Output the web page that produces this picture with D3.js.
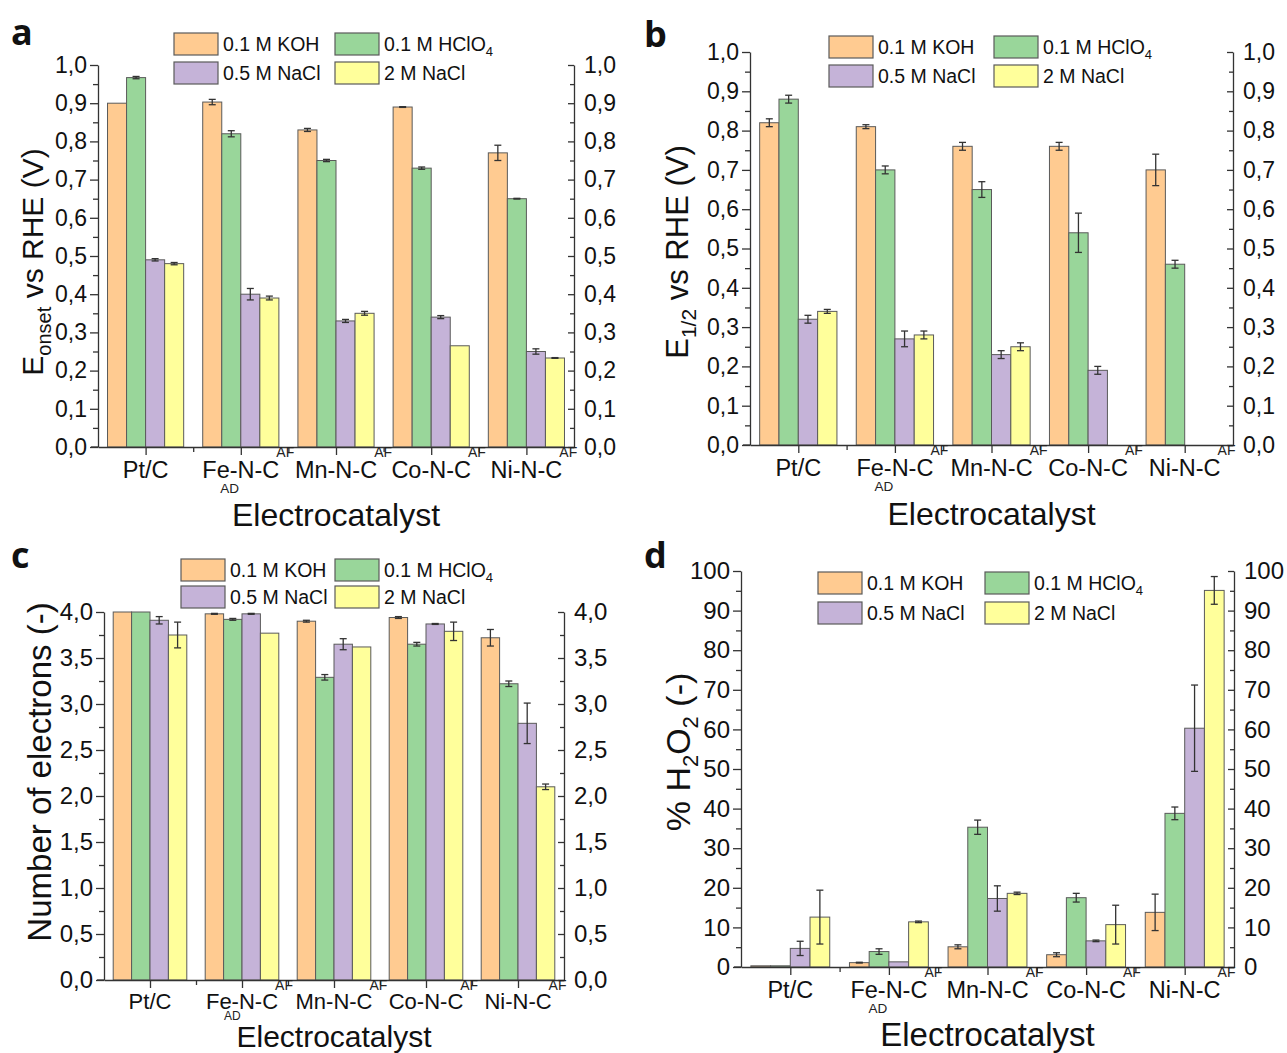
<!DOCTYPE html>
<html>
<head>
<meta charset="utf-8">
<script src="https://cdn.jsdelivr.net/npm/d3@7"></script>
<style>
  body { margin: 0; background: #fff; }
  svg { display: block; font-family: "Liberation Sans", Arial, sans-serif; }
</style>
</head>
<body>
<svg id="fig" width="1287" height="1053"></svg>
<script>
// categories and series
let catalysts = ["Pt/C", "Fe-N-C", "Mn-N-C", "Co-N-C", "Ni-N-C"];
let catSub = ["", "AD", "", "", ""];
let catSup = ["", "AF", "AF", "AF", "AF"];
let electrolytes = ["0.1 M KOH", "0.1 M HClO4", "0.5 M NaCl", "2 M NaCl"];
let colors = ["#ffcb91", "#99d69a", "#c5b3d8", "#ffff9b"];

// panel a: onset potential (V vs RHE), rows = catalysts, cols = electrolytes
let onsetVals = [
  [0.900, 0.967, 0.490, 0.480],
  [0.903, 0.820, 0.400, 0.390],
  [0.830, 0.750, 0.330, 0.350],
  [0.890, 0.730, 0.340, 0.265],
  [0.770, 0.650, 0.250, 0.233]
];
let onsetErr = [
  [0.000, 0.003, 0.003, 0.003],
  [0.007, 0.008, 0.015, 0.005],
  [0.004, 0.003, 0.004, 0.005],
  [0.001, 0.003, 0.004, 0.000],
  [0.020, 0.001, 0.007, 0.001]
];

// panel b: half-wave potential
let halfVals = [
  [0.820, 0.880, 0.320, 0.340],
  [0.810, 0.700, 0.270, 0.280],
  [0.760, 0.650, 0.230, 0.250],
  [0.760, 0.540, 0.190, null],
  [0.700, 0.460, null, null]
];
let halfErr = [
  [0.010, 0.010, 0.010, 0.005],
  [0.005, 0.010, 0.020, 0.010],
  [0.010, 0.020, 0.010, 0.010],
  [0.010, 0.050, 0.010, 0],
  [0.040, 0.010, 0, 0]
];

// panel c: number of electrons
let electronVals = [
  [4.00, 4.00, 3.91, 3.75],
  [3.98, 3.92, 3.98, 3.77],
  [3.90, 3.29, 3.65, 3.62],
  [3.94, 3.65, 3.87, 3.79],
  [3.72, 3.22, 2.79, 2.10]
];
let electronErr = [
  [0.00, 0.00, 0.04, 0.14],
  [0.005, 0.01, 0.005, 0.00],
  [0.01, 0.03, 0.06, 0.00],
  [0.01, 0.02, 0.005, 0.10],
  [0.09, 0.03, 0.22, 0.03]
];

// panel d: % H2O2
let peroxideVals = [
  [0.3, 0.3, 4.7, 12.6],
  [1.1, 3.9, 1.3, 11.4],
  [5.1, 35.3, 17.3, 18.6],
  [3.1, 17.5, 6.6, 10.7],
  [13.8, 38.8, 60.3, 95.1]
];
let peroxideErr = [
  [0, 0, 1.8, 6.8],
  [0.1, 0.7, 0, 0.2],
  [0.5, 1.8, 3.2, 0.3],
  [0.5, 1.1, 0.2, 4.9],
  [4.6, 1.6, 10.9, 3.5]
];

let yTicksA = d3.range(0, 11).map(i => i / 10);
let yTicksC = d3.range(0, 9).map(i => i / 2);
let yTicksD = d3.range(0, 11).map(i => i * 10);

let comma1 = v => d3.format(".1f")(v).replace(".", ",");
let intFmt = d3.format("d");

let FONT = "Liberation Sans, Arial, sans-serif";
let svg = d3.select("#fig");

function drawPanel(p) {
  let g = svg.append("g");

  let x = d3.scaleLinear().domain([0.5, 5.5]).range([p.x0, p.x1]);
  let y = d3.scaleLinear().domain([0, p.ymax]).range([p.yBot, p.yTop]);
  let step = x(2) - x(1);
  let bw = step * 0.8 / 4;

  // bars
  p.vals.forEach((row, i) => {
    row.forEach((v, j) => {
      if (v === null) return;
      let bx = x(i + 1) - 2 * bw + j * bw;
      g.append("rect")
        .attr("x", bx).attr("y", y(v))
        .attr("width", bw).attr("height", y(0) - y(v))
        .attr("fill", colors[j])
        .attr("stroke", "#5a5a5a").attr("stroke-width", 1);
      let e = p.errs[i][j];
      if (e > 0) {
        let cx = bx + bw / 2;
        let eb = g.append("g").attr("stroke", "#666").attr("stroke-width", 1);
        eb.append("line").attr("x1", cx).attr("x2", cx).attr("y1", y(v - e)).attr("y2", y(v + e));
        eb.append("line").attr("x1", cx - 3.5).attr("x2", cx + 3.5).attr("y1", y(v - e)).attr("y2", y(v - e));
        eb.append("line").attr("x1", cx - 3.5).attr("x2", cx + 3.5).attr("y1", y(v + e)).attr("y2", y(v + e));
      }
    });
  });

  // left axis
  let minor = d3.range(0, p.ticks.length - 1).map(k => (p.ticks[k] + p.ticks[k + 1]) / 2);
  g.append("g").attr("transform", `translate(${p.x0},0)`)
    .call(d3.axisLeft(y).tickValues(minor).tickSize(5).tickFormat(""))
    .call(s => s.select(".domain").remove());
  g.append("g").attr("transform", `translate(${p.x0},0)`)
    .call(d3.axisLeft(y).tickValues(p.ticks).tickSize(8).tickSizeOuter(0).tickPadding(3).tickFormat(p.fmt))
    .call(s => s.selectAll("text").attr("font-size", p.tickFont).attr("fill", "#111").attr("font-family", FONT));

  // right axis, ticks inward
  g.append("g").attr("transform", `translate(${p.x1},0)`)
    .call(d3.axisRight(y).tickValues(minor).tickSize(-4).tickFormat(""))
    .call(s => s.select(".domain").remove());
  g.append("g").attr("transform", `translate(${p.x1},0)`)
    .call(d3.axisRight(y).tickValues(p.ticks).tickSize(-6).tickSizeOuter(0).tickPadding(10).tickFormat(p.fmt))
    .call(s => s.selectAll("text").attr("font-size", p.tickFont).attr("fill", "#111").attr("font-family", FONT));

  // bottom axis
  g.append("g").attr("transform", `translate(0,${p.yBot})`)
    .call(d3.axisBottom(x).tickValues([1.5, 2.5, 3.5, 4.5]).tickSize(5).tickFormat(""))
    .call(s => s.select(".domain").remove());
  g.append("g").attr("transform", `translate(0,${p.yBot})`)
    .call(d3.axisBottom(x).tickValues([1, 2, 3, 4, 5]).tickSize(8).tickSizeOuter(0).tickFormat(""));
  g.append("line").attr("x1", p.x0 - 7).attr("x2", p.x0).attr("y1", p.yBot).attr("y2", p.yBot);
  g.selectAll(".domain, .tick line, line:not([stroke])").attr("stroke", "#333").attr("stroke-width", 1.3);

  // category labels with sub/superscripts
  catalysts.forEach((c, i) => {
    let cx = x(i + 1);
    let base = p.yBot + p.labOff;
    let t = g.append("text").attr("x", cx).attr("y", base)
      .attr("text-anchor", "middle").attr("font-size", p.labFont).attr("fill", "#111").text(c);
    let w = t.node().getComputedTextLength();
    if (catSup[i]) {
      g.append("text").attr("x", cx + w / 2 - 3).attr("y", base - p.labFont * 0.88)
        .attr("font-size", 14).attr("fill", "#222").text(catSup[i]);
    }
    if (catSub[i]) {
      g.append("text").attr("x", cx - w / 2 + 18).attr("y", base + p.subOff)
        .attr("font-size", p.subFont).attr("fill", "#222").text(catSub[i]);
    }
  });

  // x title
  g.append("text").attr("x", (p.x0 + p.x1) / 2).attr("y", p.xTitleY)
    .attr("text-anchor", "middle").attr("font-size", p.xTitleFont).attr("fill", "#111").text("Electrocatalyst");

  // y title
  let yt = g.append("text")
    .attr("transform", `translate(${p.yTitleX},${p.yTitleY}) rotate(-90)`)
    .attr("text-anchor", "middle").attr("font-size", p.yTitleFont).attr("fill", "#111");
  p.yTitle(yt);

  // panel letter
  g.append("text").attr("x", p.letterX).attr("y", p.letterY)
    .attr("font-family", "Open Sans, DejaVu Sans, sans-serif").attr("font-weight", "bold")
    .attr("font-size", 36).attr("fill", "#111").text(p.letter);

  // legend
  electrolytes.forEach((name, j) => {
    let lx = j % 2 === 0 ? p.legX[0] : p.legX[1];
    let ly = p.legY[Math.floor(j / 2)];
    g.append("rect").attr("x", lx).attr("y", ly - 11).attr("width", 44).attr("height", 22)
      .attr("fill", colors[j]).attr("stroke", "#5a5a5a").attr("stroke-width", 1.2);
    let tx = g.append("text").attr("x", lx + 49).attr("y", ly + 7)
      .attr("font-size", 19.5).attr("fill", "#111");
    if (name.endsWith("HClO4")) {
      tx.append("tspan").text("0.1 M HClO");
      tx.append("tspan").attr("font-size", 13).attr("dy", 5).text("4");
    } else {
      tx.text(name);
    }
  });
}

drawPanel({
  letter: "a", letterX: 11, letterY: 45,
  x0: 98, x1: 574, yTop: 65, yBot: 447, ymax: 1.0,
  ticks: yTicksA, fmt: comma1, vals: onsetVals, errs: onsetErr, tickFont: 23,
  labFont: 23.5, labOff: 31, subOff: 15, subFont: 13.5,
  xTitleY: 526, xTitleFont: 32, yTitleX: 43, yTitleY: 262, yTitleFont: 30,
  legX: [174, 335], legY: [44, 73],
  yTitle: t => {
    t.append("tspan").text("E");
    t.append("tspan").attr("font-size", 20).attr("dy", 8).text("onset");
    t.append("tspan").attr("dy", -8).text(" vs RHE (V)");
  }
});

drawPanel({
  letter: "b", letterX: 644, letterY: 47,
  x0: 750, x1: 1233, yTop: 52, yBot: 445, ymax: 1.0,
  ticks: yTicksA, fmt: comma1, vals: halfVals, errs: halfErr, tickFont: 23,
  labFont: 23.5, labOff: 31, subOff: 15, subFont: 13.5,
  xTitleY: 525, xTitleFont: 32, yTitleX: 688, yTitleY: 252, yTitleFont: 31,
  legX: [829, 994], legY: [47, 76],
  yTitle: t => {
    t.append("tspan").text("E");
    t.append("tspan").attr("font-size", 21).attr("dy", 8).text("1/2");
    t.append("tspan").attr("dy", -8).text(" vs RHE (V)");
  }
});

drawPanel({
  letter: "c", letterX: 11, letterY: 568,
  x0: 104, x1: 564, yTop: 612, yBot: 980, ymax: 4.0,
  ticks: yTicksC, fmt: comma1, vals: electronVals, errs: electronErr, tickFont: 24,
  labFont: 22, labOff: 29, subOff: 11, subFont: 12,
  xTitleY: 1047, xTitleFont: 30, yTitleX: 51, yTitleY: 772, yTitleFont: 33,
  legX: [181, 335], legY: [570, 597],
  yTitle: t => t.text("Number of electrons (-)")
});

drawPanel({
  letter: "d", letterX: 644, letterY: 568,
  x0: 741, x1: 1234, yTop: 571, yBot: 967, ymax: 100,
  ticks: yTicksD, fmt: intFmt, vals: peroxideVals, errs: peroxideErr, tickFont: 24,
  labFont: 23.5, labOff: 31, subOff: 15, subFont: 13.5,
  xTitleY: 1046, xTitleFont: 33, yTitleX: 690, yTitleY: 752, yTitleFont: 34,
  legX: [818, 985], legY: [583, 613],
  yTitle: t => {
    t.append("tspan").text("% H");
    t.append("tspan").attr("font-size", 22).attr("dy", 8).text("2");
    t.append("tspan").attr("dy", -8).text("O");
    t.append("tspan").attr("font-size", 22).attr("dy", 8).text("2");
    t.append("tspan").attr("dy", -8).text(" (-)");
  }
});
</script>
</body>
</html>
